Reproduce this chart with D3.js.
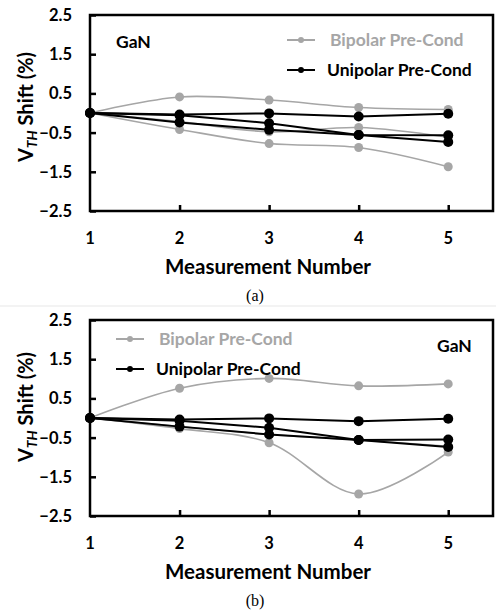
<!DOCTYPE html>
<html>
<head>
<meta charset="utf-8">
<script src="https://cdn.jsdelivr.net/npm/d3@7"></script>
<style>
  body { margin: 0; background: #fff; }
  svg { display: block; }
</style>
</head>
<body>
<svg id="chart" width="496" height="612"></svg>
<script>
// data
var measurements = [1, 2, 3, 4, 5];
var yTicks = [2.5, 1.5, 0.5, -0.5, -1.5, -2.5];

// panel (a)
var bipolarA = [
  [0, 0.41, 0.33, 0.14, 0.09],
  [0, -0.42, -0.78, -0.88, -1.37],
  [0, -0.22, -0.48, -0.37, -0.62]
];
var unipolarA = [
  [0, -0.04, -0.01, -0.09, -0.02],
  [0, -0.06, -0.26, -0.56, -0.74],
  [0, -0.24, -0.43, -0.56, -0.57]
];

// panel (b)
var bipolarB = [
  [0, 0.76, 1.01, 0.82, 0.87],
  [0, -0.27, -0.63, -1.94, -0.87],
  [0, -0.22, -0.42, -0.56, -0.72]
];
var unipolarB = [
  [0, -0.04, -0.01, -0.08, -0.02],
  [0, -0.07, -0.25, -0.56, -0.74],
  [0, -0.22, -0.42, -0.56, -0.55]
];

var grey = "#a6a6a6";
var font = "Lato, 'Open Sans', sans-serif";

var svg = d3.select("#chart");

// faint separator between the two figures
svg.append("rect")
  .attr("x", 0).attr("y", 305)
  .attr("width", 496).attr("height", 2)
  .attr("fill", "#f3f3f3");

function drawPanel(top, bip, uni, opt) {
  var left = 90, right = 493, bottom = top + 196;

  var x = d3.scaleLinear().domain([1, 5.5]).range([left, right]);
  var y = d3.scaleLinear().domain([-2.5, 2.5]).range([bottom, top]);

  var g = svg.append("g");

  // y axis, ticks pointing inward
  var yAxis = g.append("g")
    .attr("transform", "translate(" + left + ",0)")
    .call(d3.axisRight(y).tickValues(yTicks).tickSize(6).tickFormat(""));
  yAxis.select(".domain").remove();
  yAxis.selectAll("line").attr("stroke", "#000").attr("stroke-width", 2.5);

  // x axis, ticks pointing inward
  var xAxis = g.append("g")
    .attr("transform", "translate(0," + bottom + ")")
    .call(d3.axisTop(x).tickValues(measurements.slice(1)).tickSize(6).tickFormat(""));
  xAxis.select(".domain").remove();
  xAxis.selectAll("line").attr("stroke", "#000").attr("stroke-width", 2.5);

  // frame
  g.append("rect")
    .attr("x", left).attr("y", top)
    .attr("width", right - left).attr("height", bottom - top)
    .attr("fill", "none")
    .attr("stroke", "#000")
    .attr("stroke-width", 2.5);

  // tick labels
  g.selectAll(".ylab").data(yTicks).enter().append("text")
    .attr("x", 72)
    .attr("y", function(d) { return y(d); })
    .attr("dy", "0.36em")
    .attr("text-anchor", "end")
    .attr("font-family", font)
    .attr("font-weight", "bold")
    .attr("font-size", 16.5)
    .text(function(d) { return d3.format(".1f")(d); });

  g.selectAll(".xlab").data(measurements).enter().append("text")
    .attr("x", function(d) { return x(d); })
    .attr("y", bottom + 33)
    .attr("text-anchor", "middle")
    .attr("font-family", font)
    .attr("font-weight", "bold")
    .attr("font-size", 16.5)
    .text(function(d) { return d; });

  // axis titles
  g.append("text")
    .attr("x", 268)
    .attr("y", bottom + 63)
    .attr("text-anchor", "middle")
    .attr("font-family", font)
    .attr("font-weight", "bold")
    .attr("font-size", 20.5)
    .text("Measurement Number");

  var yt = g.append("text")
    .attr("transform", "translate(33," + (y(0) - opt.ytShift) + ") rotate(-90)")
    .attr("text-anchor", "middle")
    .attr("font-family", font)
    .attr("font-weight", "bold")
    .attr("font-size", 20);
  yt.append("tspan").text("V");
  yt.append("tspan").attr("font-style", "italic").attr("font-size", 14)
    .attr("dy", 4).text("TH");
  yt.append("tspan").attr("dy", -4).text(" Shift (%)");

  // caption
  g.append("text")
    .attr("x", 255)
    .attr("y", bottom + 90)
    .attr("text-anchor", "middle")
    .attr("font-family", "'Liberation Serif', 'Times New Roman', serif")
    .attr("font-size", 16)
    .text(opt.caption);

  // series
  var lineGrey = d3.line()
    .x(function(d, i) { return x(measurements[i]); })
    .y(function(d) { return y(d); })
    .curve(d3.curveCatmullRom);
  var lineBlack = d3.line()
    .x(function(d, i) { return x(measurements[i]); })
    .y(function(d) { return y(d); });

  bip.forEach(function(s) {
    g.append("path").attr("d", lineGrey(s))
      .attr("fill", "none").attr("stroke", grey).attr("stroke-width", 1.6);
    g.selectAll(null).data(s).enter().append("circle")
      .attr("cx", function(d, i) { return x(measurements[i]); })
      .attr("cy", function(d) { return y(d); })
      .attr("r", 4.5)
      .attr("fill", grey);
  });
  uni.forEach(function(s) {
    g.append("path").attr("d", lineBlack(s))
      .attr("fill", "none").attr("stroke", "#000").attr("stroke-width", 2);
    g.selectAll(null).data(s).enter().append("circle")
      .attr("cx", function(d, i) { return x(measurements[i]); })
      .attr("cy", function(d) { return y(d); })
      .attr("r", 5)
      .attr("fill", "#000");
  });

  // legend
  var lg = [
    { label: "Bipolar Pre-Cond", color: grey, dy: opt.legY, tx: opt.legX + 43 },
    { label: "Unipolar Pre-Cond", color: "#000", dy: opt.legY + 30, tx: opt.legX + 40 }
  ];
  lg.forEach(function(l) {
    var ly = top + l.dy;
    g.append("line")
      .attr("x1", opt.legX).attr("x2", opt.legX + 28)
      .attr("y1", ly).attr("y2", ly)
      .attr("stroke", l.color).attr("stroke-width", 2);
    g.append("circle")
      .attr("cx", opt.legX + 14).attr("cy", ly).attr("r", 3)
      .attr("fill", l.color);
    g.append("text")
      .attr("x", l.tx).attr("y", ly)
      .attr("dy", "0.36em")
      .attr("font-family", font)
      .attr("font-weight", "bold")
      .attr("font-size", 17.5)
      .attr("fill", l.color)
      .text(l.label);
  });

  // GaN label
  g.append("text")
    .attr("x", opt.ganX).attr("y", top + opt.ganY)
    .attr("font-family", font)
    .attr("font-weight", "bold")
    .attr("font-size", 17.5)
    .text("GaN");
}

drawPanel(15, bipolarA, unipolarA, { caption: "(a)", legX: 287, legY: 25, ganX: 116, ganY: 33, ytShift: 6 });
drawPanel(320, bipolarB, unipolarB, { caption: "(b)", legX: 116, legY: 19, ganX: 437, ganY: 32, ytShift: 11 });
</script>
</body>
</html>
